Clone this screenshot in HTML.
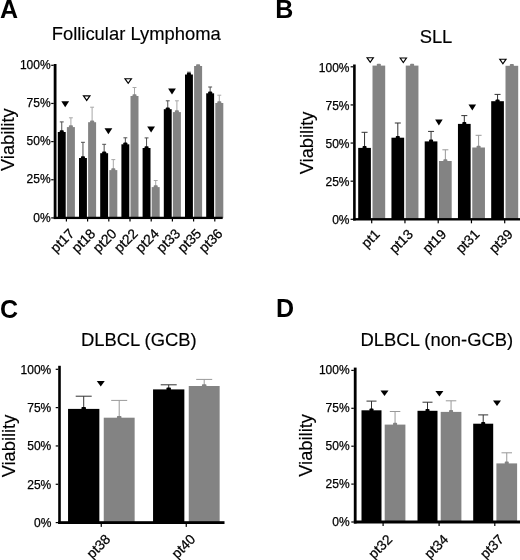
<!DOCTYPE html>
<html><head><meta charset="utf-8"><style>
html,body{margin:0;padding:0;background:#fff;}
body{width:520px;height:560px;overflow:hidden;}
svg{display:block;font-family:"Liberation Sans", sans-serif;will-change:transform;}
</style></head><body>
<svg width="520" height="560" viewBox="0 0 520 560">
<rect width="520" height="560" fill="#fff"/>
<rect x="51.20" y="217.30" width="2.5" height="1.2" fill="#000"/>
<text x="50.6" y="221.60" text-anchor="end" font-size="12" fill="#000" stroke="#000" stroke-width="0.25">0%</text>
<rect x="51.20" y="179.15" width="2.5" height="1.2" fill="#000"/>
<text x="50.6" y="183.45" text-anchor="end" font-size="12" fill="#000" stroke="#000" stroke-width="0.25">25%</text>
<rect x="51.20" y="141.00" width="2.5" height="1.2" fill="#000"/>
<text x="50.6" y="145.30" text-anchor="end" font-size="12" fill="#000" stroke="#000" stroke-width="0.25">50%</text>
<rect x="51.20" y="102.85" width="2.5" height="1.2" fill="#000"/>
<text x="50.6" y="107.15" text-anchor="end" font-size="12" fill="#000" stroke="#000" stroke-width="0.25">75%</text>
<rect x="51.20" y="64.70" width="2.5" height="1.2" fill="#000"/>
<text x="50.6" y="69.00" text-anchor="end" font-size="12" fill="#000" stroke="#000" stroke-width="0.25">100%</text>
<rect x="65.80" y="217.90" width="1.2" height="3.6" fill="#000"/>
<rect x="61.25" y="121.90" width="1" height="10.10" fill="#505050"/>
<rect x="59.80" y="121.40" width="3.9" height="1" fill="#505050"/>
<rect x="57.80" y="132.00" width="7.90" height="85.90" fill="#000"/>
<rect x="59.75" y="130.20" width="4.00" height="2.80" rx="0.8" fill="#000"/>
<rect x="70.40" y="117.80" width="1" height="9.30" fill="#a8a8a8"/>
<rect x="68.95" y="117.30" width="3.9" height="1" fill="#a8a8a8"/>
<rect x="66.90" y="127.10" width="8.00" height="90.80" fill="#838383"/>
<rect x="68.90" y="125.30" width="4.00" height="2.80" rx="0.8" fill="#838383"/>
<path d="M61.30 101.20 L69.10 101.20 L65.20 107.20Z" fill="#000"/>
<text x="75.10" y="234.50" text-anchor="end" font-size="13.8" transform="rotate(-45 75.10 234.50)" fill="#000" stroke="#000" stroke-width="0.25">pt17</text>
<rect x="87.00" y="217.90" width="1.2" height="3.6" fill="#000"/>
<rect x="82.45" y="142.30" width="1" height="15.70" fill="#505050"/>
<rect x="81.00" y="141.80" width="3.9" height="1" fill="#505050"/>
<rect x="79.00" y="158.00" width="7.90" height="59.90" fill="#000"/>
<rect x="80.95" y="156.20" width="4.00" height="2.80" rx="0.8" fill="#000"/>
<rect x="91.60" y="107.20" width="1" height="15.00" fill="#a8a8a8"/>
<rect x="90.15" y="106.70" width="3.9" height="1" fill="#a8a8a8"/>
<rect x="88.10" y="122.20" width="8.00" height="95.70" fill="#838383"/>
<rect x="90.10" y="120.40" width="4.00" height="2.80" rx="0.8" fill="#838383"/>
<path d="M83.45 95.90 L89.95 95.90 L86.70 100.45Z" fill="none" stroke="#000" stroke-width="1.15" stroke-linejoin="miter"/>
<text x="96.30" y="234.50" text-anchor="end" font-size="13.8" transform="rotate(-45 96.30 234.50)" fill="#000" stroke="#000" stroke-width="0.25">pt18</text>
<rect x="108.20" y="217.90" width="1.2" height="3.6" fill="#000"/>
<rect x="103.65" y="144.30" width="1" height="8.90" fill="#505050"/>
<rect x="102.20" y="143.80" width="3.9" height="1" fill="#505050"/>
<rect x="100.20" y="153.20" width="7.90" height="64.70" fill="#000"/>
<rect x="102.15" y="151.40" width="4.00" height="2.80" rx="0.8" fill="#000"/>
<rect x="112.80" y="159.60" width="1" height="10.50" fill="#a8a8a8"/>
<rect x="111.35" y="159.10" width="3.9" height="1" fill="#a8a8a8"/>
<rect x="109.30" y="170.10" width="8.00" height="47.80" fill="#838383"/>
<rect x="111.30" y="168.30" width="4.00" height="2.80" rx="0.8" fill="#838383"/>
<path d="M104.50 128.20 L112.30 128.20 L108.40 134.20Z" fill="#000"/>
<text x="117.50" y="234.50" text-anchor="end" font-size="13.8" transform="rotate(-45 117.50 234.50)" fill="#000" stroke="#000" stroke-width="0.25">pt20</text>
<rect x="129.40" y="217.90" width="1.2" height="3.6" fill="#000"/>
<rect x="124.85" y="137.80" width="1" height="6.50" fill="#505050"/>
<rect x="123.40" y="137.30" width="3.9" height="1" fill="#505050"/>
<rect x="121.40" y="144.30" width="7.90" height="73.60" fill="#000"/>
<rect x="123.35" y="142.50" width="4.00" height="2.80" rx="0.8" fill="#000"/>
<rect x="134.00" y="87.50" width="1" height="8.50" fill="#a8a8a8"/>
<rect x="132.55" y="87.00" width="3.9" height="1" fill="#a8a8a8"/>
<rect x="130.50" y="96.00" width="8.00" height="121.90" fill="#838383"/>
<rect x="132.50" y="94.20" width="4.00" height="2.80" rx="0.8" fill="#838383"/>
<path d="M124.95 78.70 L131.45 78.70 L128.20 83.25Z" fill="none" stroke="#000" stroke-width="1.15" stroke-linejoin="miter"/>
<text x="138.70" y="234.50" text-anchor="end" font-size="13.8" transform="rotate(-45 138.70 234.50)" fill="#000" stroke="#000" stroke-width="0.25">pt22</text>
<rect x="150.60" y="217.90" width="1.2" height="3.6" fill="#000"/>
<rect x="146.05" y="137.90" width="1" height="10.10" fill="#505050"/>
<rect x="144.60" y="137.40" width="3.9" height="1" fill="#505050"/>
<rect x="142.60" y="148.00" width="7.90" height="69.90" fill="#000"/>
<rect x="144.55" y="146.20" width="4.00" height="2.80" rx="0.8" fill="#000"/>
<rect x="155.20" y="180.50" width="1" height="6.60" fill="#a8a8a8"/>
<rect x="153.75" y="180.00" width="3.9" height="1" fill="#a8a8a8"/>
<rect x="151.70" y="187.10" width="8.00" height="30.80" fill="#838383"/>
<rect x="153.70" y="185.30" width="4.00" height="2.80" rx="0.8" fill="#838383"/>
<path d="M147.20 126.60 L155.00 126.60 L151.10 132.60Z" fill="#000"/>
<text x="159.90" y="234.50" text-anchor="end" font-size="13.8" transform="rotate(-45 159.90 234.50)" fill="#000" stroke="#000" stroke-width="0.25">pt24</text>
<rect x="171.80" y="217.90" width="1.2" height="3.6" fill="#000"/>
<rect x="167.25" y="100.80" width="1" height="8.40" fill="#505050"/>
<rect x="165.80" y="100.30" width="3.9" height="1" fill="#505050"/>
<rect x="163.80" y="109.20" width="7.90" height="108.70" fill="#000"/>
<rect x="165.75" y="107.40" width="4.00" height="2.80" rx="0.8" fill="#000"/>
<rect x="176.40" y="100.80" width="1" height="11.30" fill="#a8a8a8"/>
<rect x="174.95" y="100.30" width="3.9" height="1" fill="#a8a8a8"/>
<rect x="172.90" y="112.10" width="8.00" height="105.80" fill="#838383"/>
<rect x="174.90" y="110.30" width="4.00" height="2.80" rx="0.8" fill="#838383"/>
<path d="M168.10 88.40 L175.90 88.40 L172.00 94.40Z" fill="#000"/>
<text x="181.10" y="234.50" text-anchor="end" font-size="13.8" transform="rotate(-45 181.10 234.50)" fill="#000" stroke="#000" stroke-width="0.25">pt33</text>
<rect x="193.00" y="217.90" width="1.2" height="3.6" fill="#000"/>
<rect x="188.45" y="72.20" width="1" height="2.30" fill="#505050"/>
<rect x="187.00" y="71.70" width="3.9" height="1" fill="#505050"/>
<rect x="185.00" y="74.50" width="7.90" height="143.40" fill="#000"/>
<rect x="186.95" y="72.70" width="4.00" height="2.80" rx="0.8" fill="#000"/>
<rect x="194.10" y="66.00" width="8.00" height="151.90" fill="#838383"/>
<rect x="196.10" y="64.20" width="4.00" height="2.80" rx="0.8" fill="#838383"/>
<text x="202.30" y="234.50" text-anchor="end" font-size="13.8" transform="rotate(-45 202.30 234.50)" fill="#000" stroke="#000" stroke-width="0.25">pt35</text>
<rect x="214.20" y="217.90" width="1.2" height="3.6" fill="#000"/>
<rect x="209.65" y="87.00" width="1" height="6.30" fill="#505050"/>
<rect x="208.20" y="86.50" width="3.9" height="1" fill="#505050"/>
<rect x="206.20" y="93.30" width="7.90" height="124.60" fill="#000"/>
<rect x="208.15" y="91.50" width="4.00" height="2.80" rx="0.8" fill="#000"/>
<rect x="218.80" y="95.20" width="1" height="7.80" fill="#a8a8a8"/>
<rect x="217.35" y="94.70" width="3.9" height="1" fill="#a8a8a8"/>
<rect x="215.30" y="103.00" width="8.00" height="114.90" fill="#838383"/>
<rect x="217.30" y="101.20" width="4.00" height="2.80" rx="0.8" fill="#838383"/>
<text x="223.50" y="234.50" text-anchor="end" font-size="13.8" transform="rotate(-45 223.50 234.50)" fill="#000" stroke="#000" stroke-width="0.25">pt36</text>
<rect x="53.7" y="64" width="2.8" height="155.05" fill="#000"/>
<rect x="53.7" y="216.75" width="169.00" height="2.3" fill="#000"/>
<text x="14.3" y="139.7" text-anchor="middle" font-size="18.3" transform="rotate(-90 14.3 139.7)" fill="#000" stroke="#000" stroke-width="0.15">Viability</text>
<text x="136.2" y="40" text-anchor="middle" font-size="18.4" fill="#000" stroke="#000" stroke-width="0.15">Follicular Lymphoma</text>
<text x="0" y="18.2" font-size="25" font-weight="bold" fill="#000">A</text>
<rect x="350.60" y="218.70" width="2.5" height="1.2" fill="#000"/>
<text x="349.5" y="224.10" text-anchor="end" font-size="12" fill="#000" stroke="#000" stroke-width="0.25">0%</text>
<rect x="350.60" y="180.58" width="2.5" height="1.2" fill="#000"/>
<text x="349.5" y="185.98" text-anchor="end" font-size="12" fill="#000" stroke="#000" stroke-width="0.25">25%</text>
<rect x="350.60" y="142.45" width="2.5" height="1.2" fill="#000"/>
<text x="349.5" y="147.85" text-anchor="end" font-size="12" fill="#000" stroke="#000" stroke-width="0.25">50%</text>
<rect x="350.60" y="104.33" width="2.5" height="1.2" fill="#000"/>
<text x="349.5" y="109.73" text-anchor="end" font-size="12" fill="#000" stroke="#000" stroke-width="0.25">75%</text>
<rect x="350.60" y="66.20" width="2.5" height="1.2" fill="#000"/>
<text x="349.5" y="71.60" text-anchor="end" font-size="12" fill="#000" stroke="#000" stroke-width="0.25">100%</text>
<rect x="371.10" y="219.30" width="1.2" height="4" fill="#000"/>
<rect x="364.05" y="132.30" width="1" height="15.60" fill="#333333"/>
<rect x="361.55" y="131.80" width="6" height="1" fill="#333333"/>
<rect x="358.20" y="147.90" width="12.70" height="71.40" fill="#000"/>
<rect x="362.55" y="146.10" width="4.00" height="2.80" rx="0.8" fill="#000"/>
<rect x="372.50" y="65.60" width="12.70" height="153.70" fill="#838383"/>
<rect x="376.85" y="63.80" width="4.00" height="2.80" rx="0.8" fill="#838383"/>
<path d="M367.05 57.70 L373.35 57.70 L370.20 62.25Z" fill="none" stroke="#000" stroke-width="1.15" stroke-linejoin="miter"/>
<text x="380.70" y="235.10" text-anchor="end" font-size="13.8" transform="rotate(-45 380.70 235.10)" fill="#000" stroke="#000" stroke-width="0.25">pt1</text>
<rect x="404.35" y="219.30" width="1.2" height="4" fill="#000"/>
<rect x="397.30" y="123.00" width="1" height="14.70" fill="#333333"/>
<rect x="394.80" y="122.50" width="6" height="1" fill="#333333"/>
<rect x="391.45" y="137.70" width="12.70" height="81.60" fill="#000"/>
<rect x="395.80" y="135.90" width="4.00" height="2.80" rx="0.8" fill="#000"/>
<rect x="405.75" y="65.60" width="12.70" height="153.70" fill="#838383"/>
<rect x="410.10" y="63.80" width="4.00" height="2.80" rx="0.8" fill="#838383"/>
<path d="M400.15 58.00 L406.45 58.00 L403.30 62.55Z" fill="none" stroke="#000" stroke-width="1.15" stroke-linejoin="miter"/>
<text x="413.95" y="235.10" text-anchor="end" font-size="13.8" transform="rotate(-45 413.95 235.10)" fill="#000" stroke="#000" stroke-width="0.25">pt13</text>
<rect x="437.60" y="219.30" width="1.2" height="4" fill="#000"/>
<rect x="430.55" y="131.40" width="1" height="10.00" fill="#333333"/>
<rect x="428.05" y="130.90" width="6" height="1" fill="#333333"/>
<rect x="424.70" y="141.40" width="12.70" height="77.90" fill="#000"/>
<rect x="429.05" y="139.60" width="4.00" height="2.80" rx="0.8" fill="#000"/>
<rect x="444.85" y="149.80" width="1" height="11.20" fill="#999999"/>
<rect x="442.35" y="149.30" width="6" height="1" fill="#999999"/>
<rect x="439.00" y="161.00" width="12.70" height="58.30" fill="#838383"/>
<rect x="443.35" y="159.20" width="4.00" height="2.80" rx="0.8" fill="#838383"/>
<path d="M435.10 119.40 L442.70 119.40 L438.90 125.40Z" fill="#000"/>
<text x="447.20" y="235.10" text-anchor="end" font-size="13.8" transform="rotate(-45 447.20 235.10)" fill="#000" stroke="#000" stroke-width="0.25">pt19</text>
<rect x="470.85" y="219.30" width="1.2" height="4" fill="#000"/>
<rect x="463.80" y="115.60" width="1" height="8.30" fill="#333333"/>
<rect x="461.30" y="115.10" width="6" height="1" fill="#333333"/>
<rect x="457.95" y="123.90" width="12.70" height="95.40" fill="#000"/>
<rect x="462.30" y="122.10" width="4.00" height="2.80" rx="0.8" fill="#000"/>
<rect x="478.10" y="135.30" width="1" height="12.20" fill="#999999"/>
<rect x="475.60" y="134.80" width="6" height="1" fill="#999999"/>
<rect x="472.25" y="147.50" width="12.70" height="71.80" fill="#838383"/>
<rect x="476.60" y="145.70" width="4.00" height="2.80" rx="0.8" fill="#838383"/>
<path d="M468.50 104.60 L476.10 104.60 L472.30 110.60Z" fill="#000"/>
<text x="480.45" y="235.10" text-anchor="end" font-size="13.8" transform="rotate(-45 480.45 235.10)" fill="#000" stroke="#000" stroke-width="0.25">pt31</text>
<rect x="504.10" y="219.30" width="1.2" height="4" fill="#000"/>
<rect x="497.05" y="94.40" width="1" height="6.80" fill="#333333"/>
<rect x="494.55" y="93.90" width="6" height="1" fill="#333333"/>
<rect x="491.20" y="101.20" width="12.70" height="118.10" fill="#000"/>
<rect x="495.55" y="99.40" width="4.00" height="2.80" rx="0.8" fill="#000"/>
<rect x="505.50" y="65.80" width="12.70" height="153.50" fill="#838383"/>
<rect x="509.85" y="64.00" width="4.00" height="2.80" rx="0.8" fill="#838383"/>
<path d="M499.75 59.20 L506.05 59.20 L502.90 63.75Z" fill="none" stroke="#000" stroke-width="1.15" stroke-linejoin="miter"/>
<text x="513.70" y="235.10" text-anchor="end" font-size="13.8" transform="rotate(-45 513.70 235.10)" fill="#000" stroke="#000" stroke-width="0.25">pt39</text>
<rect x="353.1" y="64.5" width="2.6" height="156.00" fill="#000"/>
<rect x="353.1" y="218.10" width="166.90" height="2.4" fill="#000"/>
<text x="313.2" y="142.9" text-anchor="middle" font-size="18.3" transform="rotate(-90 313.2 142.9)" fill="#000" stroke="#000" stroke-width="0.15">Viability</text>
<text x="436.0" y="42.8" text-anchor="middle" font-size="18.4" fill="#000" stroke="#000" stroke-width="0.15">SLL</text>
<text x="275.2" y="18.2" font-size="25" font-weight="bold" fill="#000">B</text>
<rect x="55.70" y="522.00" width="2.5" height="1.2" fill="#000"/>
<text x="51.3" y="526.90" text-anchor="end" font-size="12" fill="#000" stroke="#000" stroke-width="0.25">0%</text>
<rect x="55.70" y="483.68" width="2.5" height="1.2" fill="#000"/>
<text x="51.3" y="488.58" text-anchor="end" font-size="12" fill="#000" stroke="#000" stroke-width="0.25">25%</text>
<rect x="55.70" y="445.35" width="2.5" height="1.2" fill="#000"/>
<text x="51.3" y="450.25" text-anchor="end" font-size="12" fill="#000" stroke="#000" stroke-width="0.25">50%</text>
<rect x="55.70" y="407.02" width="2.5" height="1.2" fill="#000"/>
<text x="51.3" y="411.93" text-anchor="end" font-size="12" fill="#000" stroke="#000" stroke-width="0.25">75%</text>
<rect x="55.70" y="368.70" width="2.5" height="1.2" fill="#000"/>
<text x="51.3" y="373.60" text-anchor="end" font-size="12" fill="#000" stroke="#000" stroke-width="0.25">100%</text>
<rect x="100.65" y="522.60" width="1.2" height="4.3" fill="#000"/>
<rect x="83.20" y="396.20" width="1" height="12.70" fill="#333333"/>
<rect x="75.70" y="395.70" width="16" height="1" fill="#333333"/>
<rect x="68.05" y="408.90" width="31.30" height="113.70" fill="#000"/>
<rect x="81.45" y="407.10" width="4.50" height="2.80" rx="0.8" fill="#000"/>
<rect x="118.70" y="400.40" width="1" height="17.30" fill="#999999"/>
<rect x="111.20" y="399.90" width="16" height="1" fill="#999999"/>
<rect x="103.75" y="417.70" width="30.90" height="104.90" fill="#838383"/>
<rect x="116.95" y="415.90" width="4.50" height="2.80" rx="0.8" fill="#838383"/>
<path d="M96.75 381.00 L104.75 381.00 L100.75 386.50Z" fill="#000"/>
<text x="111.25" y="540.20" text-anchor="end" font-size="13.8" transform="rotate(-45 111.25 540.20)" fill="#000" stroke="#000" stroke-width="0.25">pt38</text>
<rect x="185.65" y="522.60" width="1.2" height="4.3" fill="#000"/>
<rect x="168.20" y="384.80" width="1" height="4.60" fill="#333333"/>
<rect x="160.70" y="384.30" width="16" height="1" fill="#333333"/>
<rect x="153.05" y="389.40" width="31.30" height="133.20" fill="#000"/>
<rect x="166.45" y="387.60" width="4.50" height="2.80" rx="0.8" fill="#000"/>
<rect x="203.70" y="379.40" width="1" height="6.60" fill="#999999"/>
<rect x="196.20" y="378.90" width="16" height="1" fill="#999999"/>
<rect x="188.75" y="386.00" width="30.90" height="136.60" fill="#838383"/>
<rect x="201.95" y="384.20" width="4.50" height="2.80" rx="0.8" fill="#838383"/>
<text x="196.25" y="540.20" text-anchor="end" font-size="13.8" transform="rotate(-45 196.25 540.20)" fill="#000" stroke="#000" stroke-width="0.25">pt40</text>
<rect x="58.2" y="365.8" width="2.6" height="158.20" fill="#000"/>
<rect x="58.2" y="521.20" width="166.30" height="2.8" fill="#000"/>
<text x="15" y="446" text-anchor="middle" font-size="18.3" transform="rotate(-90 15 446)" fill="#000" stroke="#000" stroke-width="0.15">Viability</text>
<text x="138.8" y="345.7" text-anchor="middle" font-size="18.4" fill="#000" stroke="#000" stroke-width="0.15">DLBCL (GCB)</text>
<text x="0" y="317.5" font-size="25" font-weight="bold" fill="#000">C</text>
<rect x="351.30" y="521.40" width="2.5" height="1.2" fill="#000"/>
<text x="349.6" y="525.60" text-anchor="end" font-size="12" fill="#000" stroke="#000" stroke-width="0.25">0%</text>
<rect x="351.30" y="483.50" width="2.5" height="1.2" fill="#000"/>
<text x="349.6" y="487.70" text-anchor="end" font-size="12" fill="#000" stroke="#000" stroke-width="0.25">25%</text>
<rect x="351.30" y="445.60" width="2.5" height="1.2" fill="#000"/>
<text x="349.6" y="449.80" text-anchor="end" font-size="12" fill="#000" stroke="#000" stroke-width="0.25">50%</text>
<rect x="351.30" y="407.70" width="2.5" height="1.2" fill="#000"/>
<text x="349.6" y="411.90" text-anchor="end" font-size="12" fill="#000" stroke="#000" stroke-width="0.25">75%</text>
<rect x="351.30" y="369.80" width="2.5" height="1.2" fill="#000"/>
<text x="349.6" y="374.00" text-anchor="end" font-size="12" fill="#000" stroke="#000" stroke-width="0.25">100%</text>
<rect x="382.50" y="522.00" width="1.2" height="4" fill="#000"/>
<rect x="371.00" y="401.10" width="1" height="9.20" fill="#333333"/>
<rect x="366.50" y="400.60" width="10" height="1" fill="#333333"/>
<rect x="361.50" y="410.30" width="20.00" height="111.70" fill="#000"/>
<rect x="369.50" y="408.50" width="4.00" height="2.80" rx="0.8" fill="#000"/>
<rect x="394.55" y="411.50" width="1" height="13.10" fill="#999999"/>
<rect x="389.80" y="411.00" width="10.5" height="1" fill="#999999"/>
<rect x="384.70" y="424.60" width="20.70" height="97.40" fill="#838383"/>
<rect x="393.05" y="422.80" width="4.00" height="2.80" rx="0.8" fill="#838383"/>
<path d="M380.50 390.40 L388.50 390.40 L384.50 396.00Z" fill="#000"/>
<text x="393.10" y="540.40" text-anchor="end" font-size="13.8" transform="rotate(-45 393.10 540.40)" fill="#000" stroke="#000" stroke-width="0.25">pt32</text>
<rect x="438.50" y="522.00" width="1.2" height="4" fill="#000"/>
<rect x="427.00" y="402.20" width="1" height="8.60" fill="#333333"/>
<rect x="422.50" y="401.70" width="10" height="1" fill="#333333"/>
<rect x="417.50" y="410.80" width="20.00" height="111.20" fill="#000"/>
<rect x="425.50" y="409.00" width="4.00" height="2.80" rx="0.8" fill="#000"/>
<rect x="450.55" y="400.80" width="1" height="11.10" fill="#999999"/>
<rect x="445.80" y="400.30" width="10.5" height="1" fill="#999999"/>
<rect x="440.70" y="411.90" width="20.70" height="110.10" fill="#838383"/>
<rect x="449.05" y="410.10" width="4.00" height="2.80" rx="0.8" fill="#838383"/>
<path d="M435.40 391.00 L443.40 391.00 L439.40 396.60Z" fill="#000"/>
<text x="449.10" y="540.40" text-anchor="end" font-size="13.8" transform="rotate(-45 449.10 540.40)" fill="#000" stroke="#000" stroke-width="0.25">pt34</text>
<rect x="494.20" y="522.00" width="1.2" height="4" fill="#000"/>
<rect x="482.70" y="414.90" width="1" height="8.80" fill="#333333"/>
<rect x="478.20" y="414.40" width="10" height="1" fill="#333333"/>
<rect x="473.20" y="423.70" width="20.00" height="98.30" fill="#000"/>
<rect x="481.20" y="421.90" width="4.00" height="2.80" rx="0.8" fill="#000"/>
<rect x="506.25" y="452.80" width="1" height="10.60" fill="#999999"/>
<rect x="501.50" y="452.30" width="10.5" height="1" fill="#999999"/>
<rect x="496.40" y="463.40" width="20.70" height="58.60" fill="#838383"/>
<rect x="504.75" y="461.60" width="4.00" height="2.80" rx="0.8" fill="#838383"/>
<path d="M493.00 400.40 L501.00 400.40 L497.00 406.00Z" fill="#000"/>
<text x="504.80" y="540.40" text-anchor="end" font-size="13.8" transform="rotate(-45 504.80 540.40)" fill="#000" stroke="#000" stroke-width="0.25">pt37</text>
<rect x="353.8" y="367.6" width="2.8" height="155.90" fill="#000"/>
<rect x="353.8" y="520.50" width="166.20" height="3.0" fill="#000"/>
<text x="312.3" y="445.4" text-anchor="middle" font-size="18.3" transform="rotate(-90 312.3 445.4)" fill="#000" stroke="#000" stroke-width="0.15">Viability</text>
<text x="436.9" y="346.1" text-anchor="middle" font-size="18.4" fill="#000" stroke="#000" stroke-width="0.15">DLBCL (non-GCB)</text>
<text x="276" y="316.5" font-size="25" font-weight="bold" fill="#000">D</text>
</svg>
</body></html>
